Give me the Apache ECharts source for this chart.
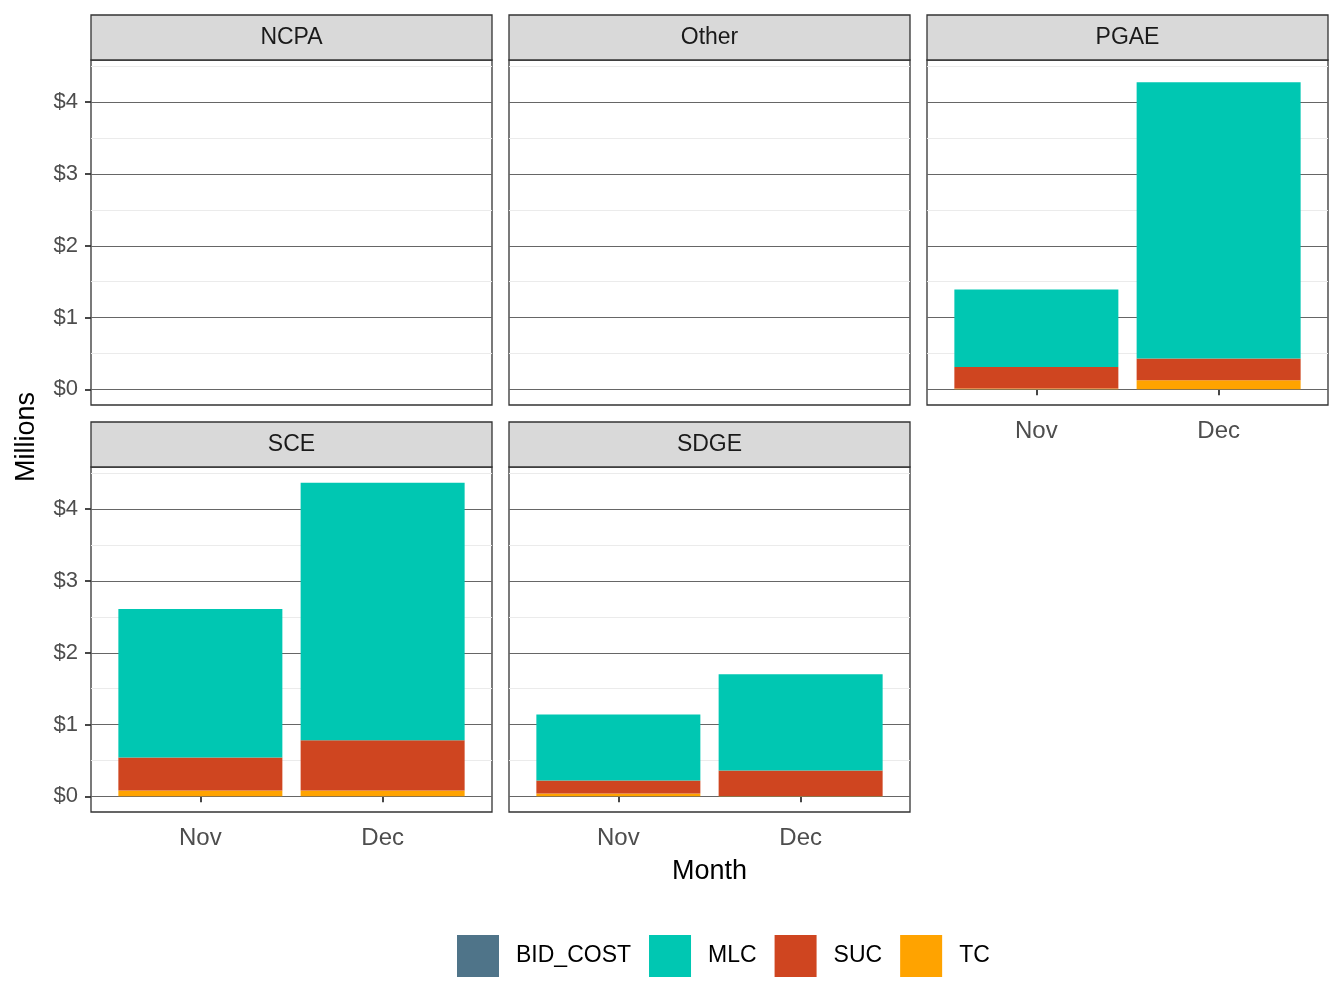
<!DOCTYPE html>
<html>
<head>
<meta charset="utf-8">
<script src="https://cdn.jsdelivr.net/npm/echarts@6/dist/echarts.min.js"></script>
<style>
  html, body { margin: 0; padding: 0; background: #fff; }
  #chart { width: 1344px; height: 1008px; }
</style>
</head>
<body>
<div id="chart"></div>
<script>
// data, in millions of dollars
var regions = ['NCPA', 'Other', 'PGAE', 'SCE', 'SDGE'];
var months = ['Nov', 'Dec'];
var monthPos = [1, 2];
var costTypes = ['BID_COST', 'MLC', 'SUC', 'TC'];
var bidCostValues = [[null, null], [null, null], [0, 0], [0, 0], [0, 0]];
var mlcValues = [[null, null], [null, null], [1.08, 3.85], [2.07, 3.59], [0.92, 1.34]];
var sucValues = [[null, null], [null, null], [0.30, 0.305], [0.46, 0.70], [0.18, 0.355]];
var tcValues = [[null, null], [null, null], [0.01, 0.125], [0.08, 0.08], [0.04, 0.005]];
var yTicks = [0, 1, 2, 3, 4];
var yMinor = [0.5, 1.5, 2.5, 3.5, 4.5];

var colors = {
    BID_COST: '#4F7489',
    MLC: '#00C7B2',
    SUC: '#CF4520',
    TC: '#FFA300'
};
var font = '"Liberation Sans", Arial, Helvetica, sans-serif';

// layout of the facets
var panelLeft = [91, 509, 927];
var panelW = 401;
var stripTop = [15, 422];
var stripH = 45;
var panelH = 345;

// y range like ggplot: 5% expansion of the data range
var maxTotal = 0;
regions.forEach(function (r, i) {
    months.forEach(function (m, j) {
        var t = (tcValues[i][j] || 0) + (sucValues[i][j] || 0) + (mlcValues[i][j] || 0) + (bidCostValues[i][j] || 0);
        if (t > maxTotal) maxTotal = t;
    });
});
var yMin = -0.05 * maxTotal;
var yMax = maxTotal * 1.05;

var grids = [], xAxes = [], yAxes = [], series = [], graphics = [];

regions.forEach(function (region, i) {
    var col = i % 3, row = Math.floor(i / 3);
    var top = stripTop[row] + stripH;
    var showX = row === 1 || i === 2;
    var showY = col === 0;

    grids.push({
        left: panelLeft[col], top: top, width: panelW, height: panelH,
        show: true, borderColor: '#333', borderWidth: 1.3, backgroundColor: '#fff',
        containLabel: false, outerBoundsMode: 'none'
    });

    xAxes.push({
        type: 'value', gridIndex: i, min: 0.4, max: 2.6,
        splitLine: { show: false },
        axisLine: { show: false },
        axisTick: { show: showX, customValues: monthPos, length: 6, lineStyle: { color: '#333', width: 1.8 } },
        axisLabel: {
            show: showX, customValues: monthPos, margin: 14,
            fontSize: 24, color: '#4D4D4D', fontFamily: font,
            formatter: function (v) { return months[monthPos.indexOf(v)]; }
        }
    });

    yAxes.push({
        type: 'value', gridIndex: i, min: yMin, max: yMax,
        splitLine: { show: false },
        axisLine: { show: false },
        axisTick: { show: showY, customValues: yTicks, length: 6, lineStyle: { color: '#333', width: 1.8 } },
        axisLabel: {
            show: showY, customValues: yTicks, margin: 13,
            fontSize: 22, color: '#4D4D4D', fontFamily: font,
            formatter: function (v) { return '$' + v; }
        }
    });

    // gridlines
    series.push({
        type: 'line', name: 'grid' + i, xAxisIndex: i, yAxisIndex: i,
        data: [], silent: true, z: 1,
        markLine: {
            silent: true, symbol: ['none', 'none'], animation: false, z: 1,
            label: { show: false },
            data: yMinor.map(function (v) {
                return { yAxis: v, lineStyle: { color: '#EBEBEB', width: 1, type: 'solid' } };
            }).concat(yTicks.map(function (v) {
                return { yAxis: v, lineStyle: { color: '#666', width: 1, type: 'solid' } };
            }))
        }
    });

    // stacked bars, bottom to top; value first so that it is the stacked dimension
    var stackOrder = [['TC', tcValues], ['SUC', sucValues], ['MLC', mlcValues], ['BID_COST', bidCostValues]];
    stackOrder.forEach(function (s) {
        series.push({
            type: 'bar', name: s[0], xAxisIndex: i, yAxisIndex: i,
            stack: 'cost' + i, barWidth: 164, z: 3,
            encode: { x: 1, y: 0 },
            itemStyle: { color: colors[s[0]] },
            data: months.map(function (m, j) { return [s[1][i][j], monthPos[j]]; })
        });
    });

    // facet strip
    graphics.push({
        type: 'rect', z: 10,
        shape: { x: panelLeft[col], y: stripTop[row], width: panelW, height: stripH },
        style: { fill: '#D9D9D9', stroke: '#333', lineWidth: 1.3 }
    });
    graphics.push({
        type: 'text', z: 11,
        x: panelLeft[col] + panelW / 2, y: stripTop[row] + stripH / 2,
        style: {
            text: region, fill: '#1A1A1A', font: '23px ' + font,
            textAlign: 'center', textVerticalAlign: 'middle'
        }
    });
});

graphics.push({
    type: 'text', x: 709.5, y: 872,
    style: { text: 'Month', fill: '#000', font: '27px ' + font, textAlign: 'center', textVerticalAlign: 'middle' }
});
graphics.push({
    type: 'text', x: 27, y: 437, rotation: Math.PI / 2,
    style: { text: 'Millions', fill: '#000', font: '27px ' + font, textAlign: 'center', textVerticalAlign: 'middle' }
});

var chart = echarts.init(document.getElementById('chart'));
chart.setOption({
    animation: false,
    backgroundColor: '#fff',
    textStyle: { fontFamily: font },
    grid: grids,
    xAxis: xAxes,
    yAxis: yAxes,
    legend: {
        data: costTypes, left: 457, top: 935, padding: 0,
        itemWidth: 42, itemHeight: 42, itemGap: 18, icon: 'rect',
        selectedMode: false,
        textStyle: { fontSize: 23, color: '#000', fontFamily: font, padding: [0, 0, 0, 12] }
    },
    graphic: graphics,
    series: series
});
window.addEventListener('resize', function () {
    chart.resize();
});
</script>
</body>
</html>
